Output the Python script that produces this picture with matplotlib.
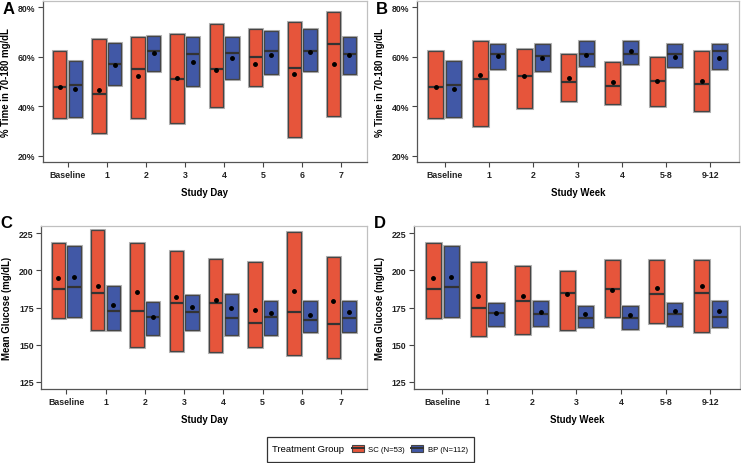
import matplotlib
matplotlib.use("Agg")
import matplotlib.pyplot as plt
import matplotlib.patheffects as pe
from matplotlib.patches import Patch, Rectangle
from matplotlib.lines import Line2D
import numpy as np

plt.rcParams['font.family'] = ['Liberation Sans', 'DejaVu Sans']

day_labels = ["Baseline", "1", "2", "3", "4", "5", "6", "7"]
week_labels = ["Baseline", "1", "2", "3", "4", "5-8", "9-12"]

# % time in range by study day (Q3, Q1, median, mean)
tir_day_sc_q3 = [62.1, 67.1, 67.9, 69.1, 73.1, 71.0, 73.9, 78.0]
tir_day_sc_q1 = [35.1, 29.0, 35.1, 33.1, 39.6, 48.3, 27.7, 36.0]
tir_day_sc_med = [47.9, 44.9, 55.1, 51.0, 55.1, 59.9, 55.5, 65.2]
tir_day_sc_mean = [47.9, 46.6, 52.1, 51.3, 54.4, 57.2, 52.9, 57.1]
tir_day_bp_q3 = [58.3, 65.4, 68.5, 67.9, 68.1, 70.4, 71.0, 67.9]
tir_day_bp_q1 = [35.5, 48.7, 54.0, 48.0, 51.0, 53.0, 54.1, 53.0]
tir_day_bp_med = [48.6, 57.1, 62.1, 61.0, 61.5, 62.1, 62.1, 61.0]
tir_day_bp_mean = [46.8, 56.5, 61.5, 58.0, 59.5, 60.6, 61.7, 60.7]

# % time in range by study week
tir_wk_sc_q3 = [62.1, 66.1, 63.0, 61.0, 58.0, 60.0, 62.1]
tir_wk_sc_q1 = [35.1, 32.1, 39.1, 42.0, 41.0, 40.1, 38.1]
tir_wk_sc_med = [47.9, 51.0, 52.0, 49.9, 48.0, 50.1, 49.0]
tir_wk_sc_mean = [47.9, 52.4, 52.0, 51.4, 49.9, 50.1, 50.1]
tir_wk_bp_q3 = [58.3, 65.2, 65.2, 66.1, 66.1, 65.2, 65.2]
tir_wk_bp_q1 = [35.5, 55.1, 54.1, 56.1, 57.1, 55.7, 55.1]
tir_wk_bp_med = [48.6, 61.1, 60.4, 61.1, 61.1, 61.1, 62.1]
tir_wk_bp_mean = [46.8, 60.4, 59.5, 60.7, 62.1, 59.8, 59.6]

# mean glucose by study day
glu_day_sc_q3 = [218.7, 227.0, 218.7, 212.8, 207.4, 205.6, 225.7, 208.8]
glu_day_sc_q1 = [167.8, 159.7, 148.6, 146.0, 144.8, 148.6, 142.8, 141.0]
glu_day_sc_med = [187.6, 184.7, 172.7, 177.9, 177.9, 164.4, 172.3, 164.0]
glu_day_sc_mean = [194.8, 189.4, 185.6, 182.0, 180.0, 173.6, 186.0, 179.5]
glu_day_bp_q3 = [216.2, 189.2, 178.8, 183.6, 183.8, 179.3, 179.1, 179.5]
glu_day_bp_q1 = [168.9, 159.7, 156.3, 159.7, 156.8, 156.8, 158.8, 158.8]
glu_day_bp_med = [189.0, 172.7, 168.7, 171.8, 168.2, 168.9, 166.7, 167.8]
glu_day_bp_mean = [195.3, 176.6, 168.5, 175.5, 174.8, 171.6, 169.8, 171.8]

# mean glucose by study week
glu_wk_sc_q3 = [218.7, 205.6, 202.7, 199.8, 207.0, 207.0, 207.0]
glu_wk_sc_q1 = [167.8, 155.9, 157.0, 159.9, 168.9, 164.6, 158.8]
glu_wk_sc_med = [187.6, 174.8, 179.7, 185.0, 187.8, 183.8, 184.9]
glu_wk_sc_mean = [194.8, 182.9, 183.1, 183.9, 186.9, 188.3, 189.2]
glu_wk_bp_q3 = [216.2, 178.4, 179.7, 175.9, 175.9, 177.9, 179.3]
glu_wk_bp_q1 = [168.9, 162.8, 162.8, 161.9, 160.8, 162.8, 161.7]
glu_wk_bp_med = [189.0, 171.2, 170.7, 168.0, 167.8, 170.7, 168.7]
glu_wk_bp_mean = [195.3, 171.2, 172.3, 170.5, 170.0, 172.5, 173.0]

SC_COLOR = "#E6553B"
BP_COLOR = "#4158A6"
EDGE = "#454545"
W = 0.34
OFF = 0.2


def draw_group(ax, x, q1, q3, med, mean, color):
    q1 = np.array(q1)
    q3 = np.array(q3)
    ax.bar(x, q3 - q1, bottom=q1, width=W, color=color, edgecolor=EDGE,
           linewidth=0.9, zorder=2,
           path_effects=[pe.withStroke(linewidth=2.2, foreground="#b5b5b5")])
    ax.hlines(med, x - W / 2, x + W / 2, colors="#333333", linewidth=1.6, zorder=3)
    ax.plot(x, mean, "o", color="black", markersize=2.5, zorder=4)


def panel(rect, letter, letter_top, labels, sc, bp, ylim, yticks, ylabel, xlabel, pct):
    ax = fig.add_axes(rect)
    x = np.arange(len(labels))
    draw_group(ax, x - OFF, *sc, SC_COLOR)
    draw_group(ax, x + OFF, *bp, BP_COLOR)
    ax.set_xlim(-0.63, len(labels) - 1 + 0.65)
    ax.set_ylim(*ylim)
    ax.set_xticks(x)
    ax.set_xticklabels(labels)
    ax.set_yticks(yticks)
    if pct:
        ax.set_yticklabels([f"{t}%" for t in yticks])
    for lab in ax.get_xticklabels() + ax.get_yticklabels():
        lab.set_fontweight("bold")
        lab.set_fontsize(6.3)
        lab.set_color("#222222")
    ax.tick_params(direction="out", length=3.5, width=0.8, color="#444444", pad=2)
    ax.spines["left"].set_color("#555555")
    ax.spines["bottom"].set_color("#555555")
    ax.spines["top"].set_color("#c0c0c0")
    ax.spines["right"].set_color("#c0c0c0")
    for s in ax.spines.values():
        s.set_linewidth(0.9)
    ax.set_ylabel(ylabel, fontsize=6.9, fontweight="bold", labelpad=5)
    ax.set_xlabel(xlabel, fontsize=6.9, fontweight="bold", labelpad=6)
    fig.text(rect[0] - 0.055, 1 - letter_top / 464, letter, fontsize=12,
             fontweight="bold", ha="left", va="top")
    return ax


fig = plt.figure(figsize=(7.41, 4.64), dpi=100)

panel([0.058, 0.649, 0.437, 0.347], "A", 2, day_labels,
      (tir_day_sc_q1, tir_day_sc_q3, tir_day_sc_med, tir_day_sc_mean),
      (tir_day_bp_q1, tir_day_bp_q3, tir_day_bp_med, tir_day_bp_mean),
      (17.5, 82.5), [20, 40, 60, 80], "% Time in 70-180 mg/dL", "Study Day", True)
panel([0.5625, 0.649, 0.435, 0.347], "B", 2, week_labels,
      (tir_wk_sc_q1, tir_wk_sc_q3, tir_wk_sc_med, tir_wk_sc_mean),
      (tir_wk_bp_q1, tir_wk_bp_q3, tir_wk_bp_med, tir_wk_bp_mean),
      (17.5, 82.5), [20, 40, 60, 80], "% Time in 70-180 mg/dL", "Study Week", True)
panel([0.056, 0.159, 0.439, 0.352], "C", 216, day_labels,
      (glu_day_sc_q1, glu_day_sc_q3, glu_day_sc_med, glu_day_sc_mean),
      (glu_day_bp_q1, glu_day_bp_q3, glu_day_bp_med, glu_day_bp_mean),
      (120, 230), [125, 150, 175, 200, 225], "Mean Glucose (mg/dL)", "Study Day", False)
panel([0.559, 0.159, 0.439, 0.352], "D", 216, week_labels,
      (glu_wk_sc_q1, glu_wk_sc_q3, glu_wk_sc_med, glu_wk_sc_mean),
      (glu_wk_bp_q1, glu_wk_bp_q3, glu_wk_bp_med, glu_wk_bp_mean),
      (120, 230), [125, 150, 175, 200, 225], "Mean Glucose (mg/dL)", "Study Week", False)

# legend along the bottom
fig.patches.append(Rectangle((267 / 741, 1 - 462.5 / 464), 207 / 741, 25 / 464,
                             transform=fig.transFigure, facecolor="white",
                             edgecolor="#333333", linewidth=0.9))
fig.text(272.5 / 741, 1 - 450 / 464, "Treatment Group", fontsize=6.8,
         ha="left", va="center")
handles = [(Patch(facecolor=SC_COLOR, edgecolor=EDGE, linewidth=0.8),
            Line2D([], [], color="#333333", linewidth=1.4)),
           (Patch(facecolor=BP_COLOR, edgecolor=EDGE, linewidth=0.8),
            Line2D([], [], color="#333333", linewidth=1.4))]
fig.legend(handles, ["SC (N=53)", "BP (N=112)"], ncol=2, frameon=False,
           fontsize=5.6, loc="center left", bbox_to_anchor=(352 / 741, 1 - 450 / 464),
           handlelength=1.5, handleheight=1.0, handletextpad=0.6, columnspacing=0.8,
           borderaxespad=0, borderpad=0)

fig.savefig("out.png", dpi=100)
